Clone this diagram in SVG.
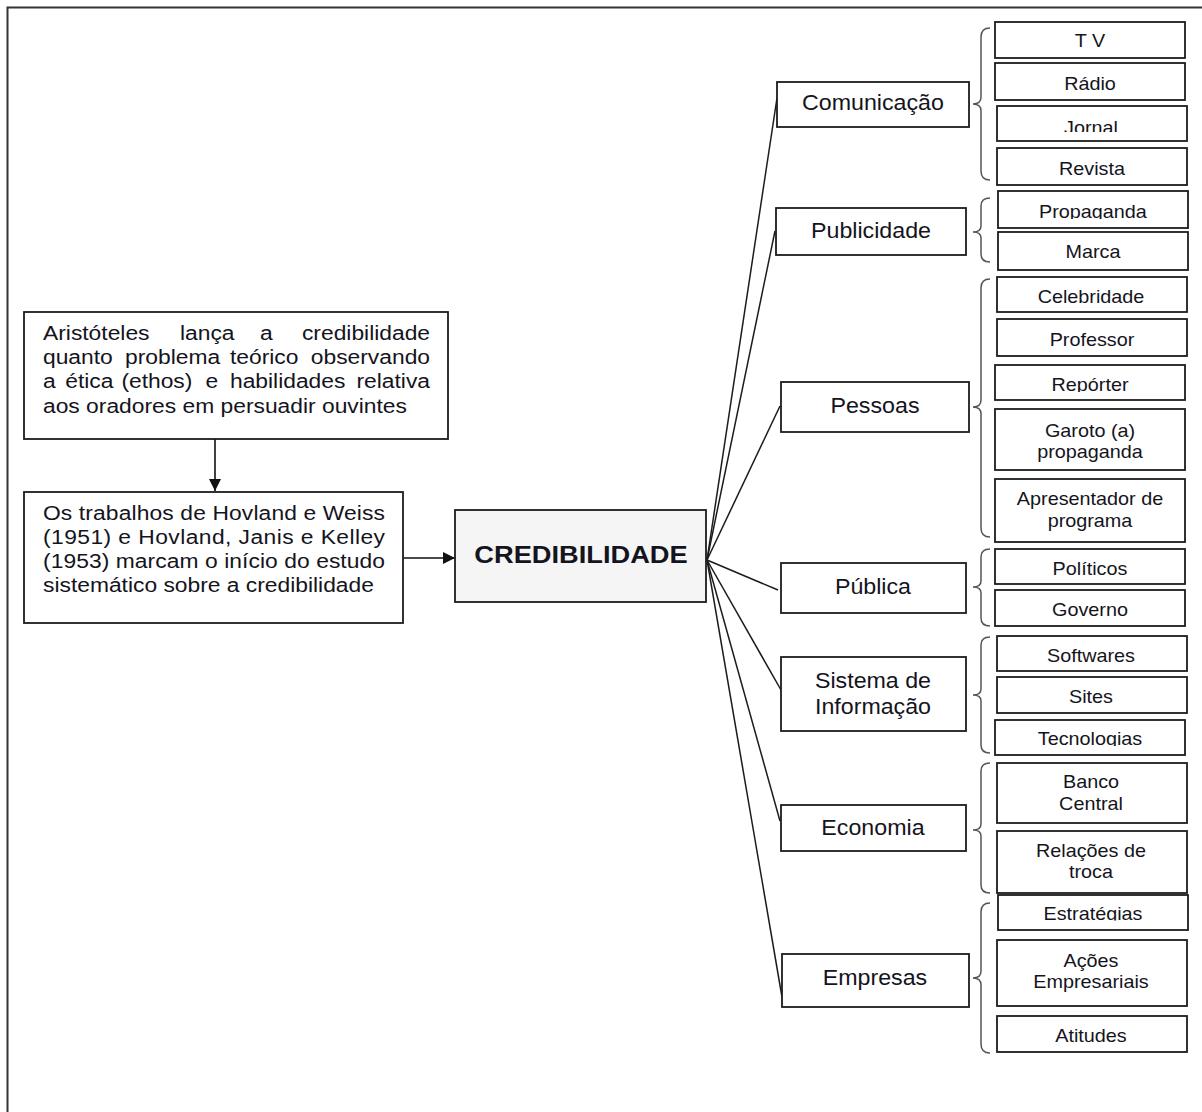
<svg xmlns="http://www.w3.org/2000/svg" width="1202" height="1112" viewBox="0 0 1202 1112">
  <style>
    .frame { fill: none; stroke: #333; stroke-width: 2; }
    .box { fill: #fff; stroke: #1c1c1c; stroke-width: 1.8; }
    .core { fill: #f5f5f5; stroke: #1c1c1c; stroke-width: 1.8; }
    .brace { fill: none; stroke: #555; stroke-width: 1.5; }
    .link { fill: none; stroke: #1c1c1c; stroke-width: 1.5; }
    .arrow { fill: none; stroke: #111; stroke-width: 1.6; }
    text { font-family: "Liberation Sans", Arial, sans-serif; fill: #141420; }
    .para { font-size: 19.5px; }
    .lbl { font-size: 21.5px; text-anchor: middle; transform-box: fill-box; transform-origin: center; transform: scaleX(1.08); }
    .item { font-size: 18px; text-anchor: middle; transform-box: fill-box; transform-origin: center; transform: scaleX(1.1); }
    .title { font-size: 23.5px; font-weight: bold; text-anchor: middle; transform-box: fill-box; transform-origin: center; transform: scaleX(1.16); }
  </style>
  <defs>
    <marker id="head" viewBox="0 0 12 12" refX="12" refY="6" markerWidth="12" markerHeight="12" markerUnits="userSpaceOnUse" orient="auto">
      <path d="M0,0 L12,6 L0,12 Z" fill="#111"/>
    </marker>
    <clipPath id="cutJornal" clipPathUnits="userSpaceOnUse"><rect x="0" y="100" width="1202" height="32"/></clipPath>
    <clipPath id="cutPropaganda" clipPathUnits="userSpaceOnUse"><rect x="0" y="190" width="1202" height="29"/></clipPath>
    <clipPath id="cutReporter" clipPathUnits="userSpaceOnUse"><rect x="0" y="364" width="1202" height="28"/></clipPath>
    <clipPath id="cutTecnologias" clipPathUnits="userSpaceOnUse"><rect x="0" y="720" width="1202" height="26"/></clipPath>
    <clipPath id="cutEstrategias" clipPathUnits="userSpaceOnUse"><rect x="0" y="894" width="1202" height="26.5"/></clipPath>
  </defs>

  <!-- page frame (top and left edges) -->
  <path class="frame" d="M7.5,1112 V7.5 H1202"/>

  <!-- connectors -->
  <g id="connectors">
    <line class="arrow" x1="215" y1="439" x2="215" y2="491" marker-end="url(#head)"/>
    <line class="arrow" x1="403" y1="558" x2="455" y2="558" marker-end="url(#head)"/>
    <line class="link" x1="707" y1="560" x2="777" y2="98"/>
    <line class="link" x1="707" y1="560" x2="775" y2="231"/>
    <line class="link" x1="707" y1="560" x2="780" y2="406"/>
    <line class="link" x1="707" y1="560" x2="778" y2="590"/>
    <line class="link" x1="707" y1="560" x2="781" y2="690"/>
    <line class="link" x1="707" y1="560" x2="780" y2="821"/>
    <line class="link" x1="707" y1="560" x2="782" y2="997"/>
  </g>

  <!-- braces -->
  <g id="braces">
    <path class="brace" d="M990,28 Q981,28 981,37 L981,97 Q981,104 973,104 Q981,104 981,111 L981,171 Q981,180 990,180"/>
    <path class="brace" d="M990,198 Q981,198 981,206 L981,226 Q981,232 973,232 Q981,232 981,238 L981,254 Q981,262 990,262"/>
    <path class="brace" d="M990,279 Q981,279 981,288 L981,400 Q981,407 973,407 Q981,407 981,414 L981,528 Q981,537 990,537"/>
    <path class="brace" d="M990,549 Q981,549 981,557 L981,581 Q981,587 973,587 Q981,587 981,593 L981,618 Q981,626 990,626"/>
    <path class="brace" d="M990,637 Q981,637 981,645 L981,689 Q981,695 973,695 Q981,695 981,701 L981,745 Q981,753 990,753"/>
    <path class="brace" d="M990,763 Q981,763 981,771 L981,824 Q981,830 973,830 Q981,830 981,836 L981,885 Q981,893 990,893"/>
    <path class="brace" d="M990,903 Q981,903 981,912 L981,971 Q981,978 973,978 Q981,978 981,985 L981,1044 Q981,1053 990,1053"/>
  </g>

  <!-- history boxes -->
  <g id="aristoteles">
    <rect class="box" x="24" y="312" width="424" height="127"/>
    <g transform="translate(43 0) scale(1.17 1) translate(-43 0)">
      <text class="para" x="43" y="340">Aristóteles</text>
      <text class="para" x="160.1" y="340">lança</text>
      <text class="para" x="228.5" y="340">a</text>
      <text class="para" x="373.8" y="340" text-anchor="end">credibilidade</text>
      <text class="para" x="43" y="364">quanto</text>
      <text class="para" x="113.1" y="364">problema</text>
      <text class="para" x="202.8" y="364">teórico</text>
      <text class="para" x="373.8" y="364" text-anchor="end">observando</text>
      <text class="para" x="43" y="388">a</text>
      <text class="para" x="62" y="388">ética</text>
      <text class="para" x="110" y="388">(ethos)</text>
      <text class="para" x="182" y="388">e</text>
      <text class="para" x="202.8" y="388">habilidades</text>
      <text class="para" x="373.8" y="388" text-anchor="end">relativa</text>
      <text class="para" x="43" y="413">aos oradores em persuadir ouvintes</text>
    </g>
  </g>

  <g id="hovland">
    <rect class="box" x="24" y="492" width="379" height="131"/>
    <g transform="translate(43 0) scale(1.17 1) translate(-43 0)">
      <text class="para" x="43" y="520" textLength="292.3" lengthAdjust="spacing">Os trabalhos de Hovland e Weiss</text>
      <text class="para" x="43" y="544" textLength="292.3" lengthAdjust="spacing">(1951) e Hovland, Janis e Kelley</text>
      <text class="para" x="43" y="568" textLength="292.3" lengthAdjust="spacing">(1953) marcam o início do estudo</text>
      <text class="para" x="43" y="592">sistemático sobre a credibilidade</text>
    </g>
  </g>

  <!-- central node -->
  <g id="credibilidade">
    <rect class="core" x="455" y="510" width="251" height="92"/>
    <text class="title" x="581" y="563">CREDIBILIDADE</text>
  </g>

  <!-- categories -->
  <g id="comunicacao">
    <rect class="box" x="777" y="82" width="192" height="45"/>
    <text class="lbl" x="873" y="110">Comunicação</text>
  </g>
  <g id="publicidade">
    <rect class="box" x="776" y="208" width="190" height="47"/>
    <text class="lbl" x="871" y="238">Publicidade</text>
  </g>
  <g id="pessoas">
    <rect class="box" x="781" y="382" width="188" height="50"/>
    <text class="lbl" x="875" y="413">Pessoas</text>
  </g>
  <g id="publica">
    <rect class="box" x="781" y="563" width="185" height="50"/>
    <text class="lbl" x="873" y="594">Pública</text>
  </g>
  <g id="sistema">
    <rect class="box" x="781" y="657" width="185" height="74"/>
    <text class="lbl" x="873" y="688">Sistema de</text>
    <text class="lbl" x="873" y="714">Informação</text>
  </g>
  <g id="economia">
    <rect class="box" x="781" y="805" width="185" height="46"/>
    <text class="lbl" x="873" y="835">Economia</text>
  </g>
  <g id="empresas">
    <rect class="box" x="782" y="954" width="187" height="53"/>
    <text class="lbl" x="875" y="985">Empresas</text>
  </g>

  <!-- items: Comunicação -->
  <g id="tv">
    <rect class="box" x="995" y="22" width="190" height="36"/>
    <text class="item" x="1090" y="47">T V</text>
  </g>
  <g id="radio">
    <rect class="box" x="995" y="63" width="190" height="37"/>
    <text class="item" x="1090" y="90">Rádio</text>
  </g>
  <g id="jornal">
    <rect class="box" x="997" y="106" width="190" height="35"/>
    <g clip-path="url(#cutJornal)"><text class="item" x="1091" y="134">Jornal</text></g>
  </g>
  <g id="revista">
    <rect class="box" x="997" y="148" width="190" height="37"/>
    <text class="item" x="1092" y="175">Revista</text>
  </g>

  <!-- items: Publicidade -->
  <g id="propaganda">
    <rect class="box" x="998" y="191" width="190" height="37"/>
    <g clip-path="url(#cutPropaganda)"><text class="item" x="1093" y="218.5">Propaganda</text></g>
  </g>
  <g id="marca">
    <rect class="box" x="998" y="232" width="190" height="38"/>
    <text class="item" x="1093" y="258">Marca</text>
  </g>

  <!-- items: Pessoas -->
  <g id="celebridade">
    <rect class="box" x="997" y="277" width="190" height="35"/>
    <text class="item" x="1091" y="303">Celebridade</text>
  </g>
  <g id="professor">
    <rect class="box" x="997" y="319" width="190" height="37"/>
    <text class="item" x="1092" y="346">Professor</text>
  </g>
  <g id="reporter">
    <rect class="box" x="995" y="365" width="190" height="35"/>
    <g clip-path="url(#cutReporter)"><text class="item" x="1090" y="391.5">Repórter</text></g>
  </g>
  <g id="garoto">
    <rect class="box" x="995" y="409" width="190" height="61"/>
    <text class="item" x="1090" y="437">Garoto (a)</text>
    <text class="item" x="1090" y="458">propaganda</text>
  </g>
  <g id="apresentador">
    <rect class="box" x="995" y="479" width="190" height="63"/>
    <text class="item" x="1090" y="505">Apresentador de</text>
    <text class="item" x="1090" y="527">programa</text>
  </g>

  <!-- items: Pública -->
  <g id="politicos">
    <rect class="box" x="995" y="549" width="190" height="35"/>
    <text class="item" x="1090" y="575">Políticos</text>
  </g>
  <g id="governo">
    <rect class="box" x="995" y="590" width="190" height="36"/>
    <text class="item" x="1090" y="616">Governo</text>
  </g>

  <!-- items: Sistema de Informação -->
  <g id="softwares">
    <rect class="box" x="997" y="636" width="190" height="35"/>
    <text class="item" x="1091" y="662">Softwares</text>
  </g>
  <g id="sites">
    <rect class="box" x="997" y="677" width="190" height="36"/>
    <text class="item" x="1091" y="703">Sites</text>
  </g>
  <g id="tecnologias">
    <rect class="box" x="995" y="720" width="190" height="35"/>
    <g clip-path="url(#cutTecnologias)"><text class="item" x="1090" y="745.5">Tecnologias</text></g>
  </g>

  <!-- items: Economia -->
  <g id="banco">
    <rect class="box" x="997" y="763" width="190" height="60"/>
    <text class="item" x="1091" y="788">Banco</text>
    <text class="item" x="1091" y="810">Central</text>
  </g>
  <g id="relacoes">
    <rect class="box" x="997" y="831" width="190" height="62"/>
    <text class="item" x="1091" y="857">Relações de</text>
    <text class="item" x="1091" y="878">troca</text>
  </g>

  <!-- items: Empresas -->
  <g id="estrategias">
    <rect class="box" x="998" y="895" width="190" height="35"/>
    <g clip-path="url(#cutEstrategias)"><text class="item" x="1093" y="920">Estratégias</text></g>
  </g>
  <g id="acoes">
    <rect class="box" x="997" y="940" width="190" height="66"/>
    <text class="item" x="1091" y="967">Ações</text>
    <text class="item" x="1091" y="988">Empresariais</text>
  </g>
  <g id="atitudes">
    <rect class="box" x="997" y="1016" width="190" height="36"/>
    <text class="item" x="1091" y="1042">Atitudes</text>
  </g>
</svg>
